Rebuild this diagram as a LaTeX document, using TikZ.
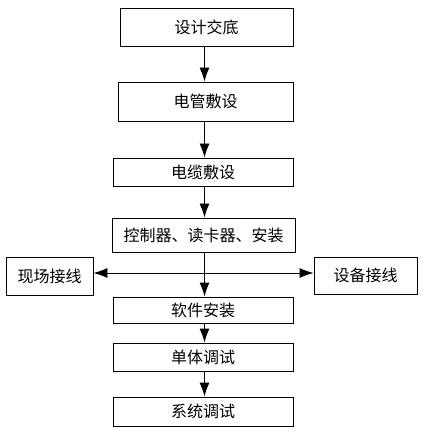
\documentclass[tikz,border=0pt]{standalone}
\usepackage{fontspec}
\newfontfamily\cjk{Noto Sans CJK SC}
\usetikzlibrary{arrows.meta}
\begin{document}
\begin{tikzpicture}[x=1pt,y=-1pt,
  box/.style={draw,line width=0.9pt,inner sep=0pt,font=\cjk\fontsize{16}{18}\selectfont},
  arr/.style={line width=0.9pt,-{Latex[length=14pt,width=10pt]}},
  ln/.style={line width=0.9pt}]
\useasboundingbox (0,0) rectangle (429,443);
\node[box,minimum width=173pt,minimum height=38pt] (b1) at (206.5,27) {设计交底};
\node[box,minimum width=175pt,minimum height=39pt] (b2) at (205.5,101.5) {电管敷设};
\node[box,minimum width=180pt,minimum height=28pt] (b3) at (203,172) {电缆敷设};
\node[box,minimum width=183pt,minimum height=34pt] (b4) at (203.5,235) {控制器、读卡器、安装};
\node[box,minimum width=87pt,minimum height=38pt] (l) at (49.5,276) {现场接线};
\node[box,minimum width=103pt,minimum height=37pt] (r) at (365.5,275.5) {设备接线};
\node[box,minimum width=180pt,minimum height=26pt] (b5) at (203,310) {软件安装};
\node[box,minimum width=180pt,minimum height=28pt] (b6) at (203,357) {单体调试};
\node[box,minimum width=180pt,minimum height=29pt] (b7) at (203,411.5) {系统调试};
\coordinate (sp) at (204.5,0);
\coordinate (j) at (204.5,273);
\draw[arr] (b1.south -| sp) -- (b2.north -| sp);
\draw[arr] (b2.south -| sp) -- (b3.north -| sp);
\draw[arr] (b3.south -| sp) -- (b4.north -| sp);
\draw[arr] (b4.south -| sp) -- (b5.north -| sp);
\draw[arr] (j) -- (l.east |- j);
\draw[arr] (j) -- (r.west |- j);
\draw[arr] (b5.south -| sp) -- (b6.north -| sp);
\draw[arr] (b6.south -| sp) -- (b7.north -| sp);
\end{tikzpicture}
\end{document}
